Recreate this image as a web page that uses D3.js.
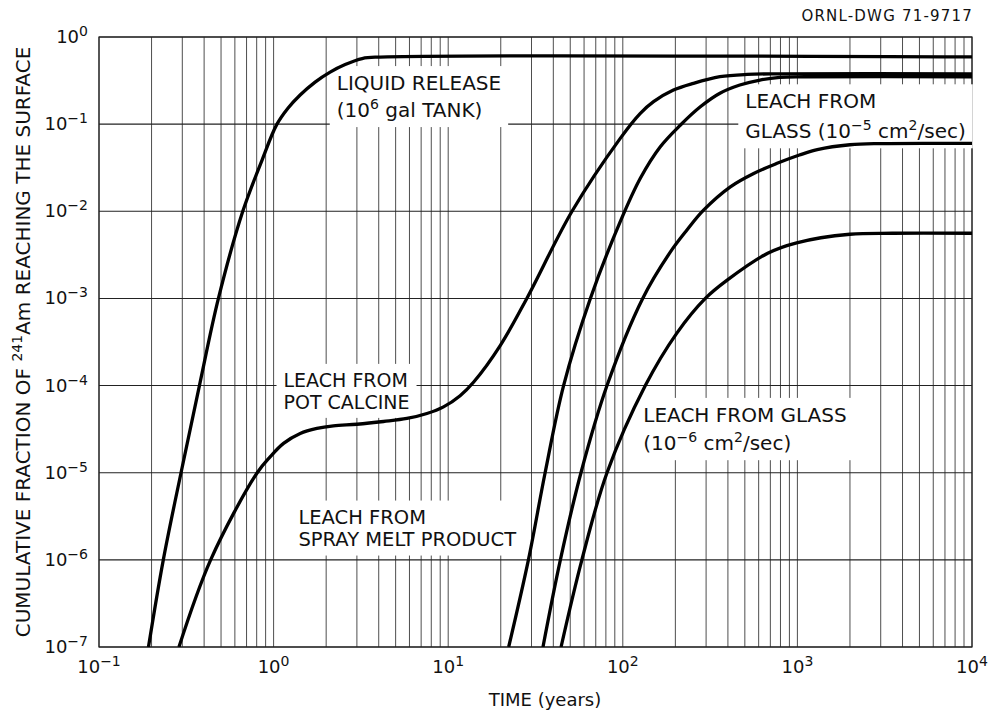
<!DOCTYPE html>
<html>
<head>
<meta charset="utf-8">
<script src="https://cdn.jsdelivr.net/npm/d3@7"></script>
<style>
  body { margin: 0; background: #fff; }
  svg text { font-family: "DejaVu Sans", sans-serif; fill: #111; }
</style>
</head>
<body>
<div id="chart"></div>
<script>
// decade ticks on both axes (exponents)
var xExponents = [-1, 0, 1, 2, 3, 4];
var yExponents = [0, -1, -2, -3, -4, -5, -6, -7];

// curves: [time in years, cumulative fraction]
var liquidRelease = [[0.192,1e-7],[0.2335,1e-6],[0.295,1e-5],[0.376,1e-4],[0.483,1e-3],[0.666,1e-2],
  [0.859,0.0387],[1.04,0.098],[1.211,0.153],[1.419,0.216],[1.729,0.304],[2.108,0.396],[2.569,0.483],
  [3.216,0.566],[4.076,0.589],[10000,0.59]];
var potCalcine = [[0.287,1e-7],[0.436,1e-6],[0.80,9.8e-6],[0.955,1.52e-5],[1.14,2.17e-5],[1.42,2.82e-5],
  [1.77,3.22e-5],[2.2,3.45e-5],[3.0,3.6e-5],[4.26,3.87e-5],[5.8,4.19e-5],[7.55,4.78e-5],[9.4,5.7e-5],
  [11.7,7.66e-5],[14,1.1e-4],[19.9,2.9e-4],[28.2,1e-3],[51.2,1e-2],[96.7,0.0687],[126,0.133],[150,0.181],
  [195,0.246],[254,0.294],[360,0.35],[515,0.372],[800,0.378],[10000,0.378]];
var sprayMelt = [[22.2,1e-7],[28.8,1e-6],[35.9,1e-5],[45.8,1e-4],[65.2,1e-3],[96.7,7.6e-3],[126,0.0239],
  [164,0.055],[214,0.0977],[278,0.158],[360,0.226],[468,0.281],[610,0.321],[794,0.345],[1100,0.35],[10000,0.35]];
var glass5 = [[34.9,1e-7],[43.9,1e-6],[57.6,1e-5],[81.2,1e-4],[130,1e-3],[187,3.4e-3],[233,6.1e-3],
  [290,0.0103],[413,0.0191],[562,0.0272],[765,0.0355],[1027,0.0442],[1300,0.051],[2000,0.058],[3000,0.0598],[10000,0.06]];
var glass6 = [[44.3,1e-7],[58.3,1e-6],[81.2,1e-5],[134.6,1e-4],[204,4e-4],[297,1e-3],[396,1.62e-3],
  [676,3.3e-3],[990,4.35e-3],[2000,5.45e-3],[3500,5.6e-3],[10000,5.6e-3]];
var series = [liquidRelease, potCalcine, sprayMelt, glass5, glass6];

// annotation lines: parts are [text, isSuperscript]; anchored at [years, fraction] (left edge, baseline)
var notes = [
  {at: [2.3, 0.246], lines: [[["LIQUID RELEASE"]], [["(10"], ["6", 1], [" gal TANK)"]]], gap: 27, size: 20},
  {at: [1.14, 9.66e-5], lines: [[["LEACH FROM"]], [["POT CALCINE"]]], gap: 22, size: 19},
  {at: [1.387, 2.61e-6], lines: [[["LEACH FROM"]], [["SPRAY MELT PRODUCT"]]], gap: 22, size: 19.5},
  {at: [503, 0.152], lines: [[["LEACH FROM"]], [["GLASS (10"], ["\u22125", 1], [" cm"], ["2", 1], ["/sec)"]]], gap: 30, size: 20},
  {at: [131, 3.83e-5], lines: [[["LEACH FROM GLASS"]], [["(10"], ["\u22126", 1], [" cm"], ["2", 1], ["/sec)"]]], gap: 28.3, size: 20}
];

var width = 993, height = 713;
var plotL = 99, plotR = 972, plotT = 37, plotB = 647;

var svg = d3.select("#chart").append("svg")
  .attr("width", width)
  .attr("height", height);

var x = d3.scaleLog().domain([0.1, 1e4]).range([plotL, plotR]);
var y = d3.scaleLog().domain([1e-7, 1]).range([plotB, plotT]);

// grid: every 1..9 multiple vertically, decades horizontally
svg.append("g").selectAll("line")
  .data(x.ticks())
  .enter().append("line")
  .attr("x1", d => x(d)).attr("x2", d => x(d))
  .attr("y1", plotT).attr("y2", plotB)
  .attr("stroke", "#3a3a3a")
  .attr("stroke-width", 0.9);

svg.append("g").selectAll("line")
  .data(yExponents)
  .enter().append("line")
  .attr("x1", plotL).attr("x2", plotR)
  .attr("y1", d => y(Math.pow(10, d))).attr("y2", d => y(Math.pow(10, d)))
  .attr("stroke", "#222")
  .attr("stroke-width", 1.1);

svg.append("rect")
  .attr("x", plotL).attr("y", plotT)
  .attr("width", plotR - plotL).attr("height", plotB - plotT)
  .attr("fill", "none")
  .attr("stroke", "#222")
  .attr("stroke-width", 1.2);

// labels on white boxes, so the grid breaks around them
var noteLayer = svg.append("g");
notes.forEach(function(n) {
  var g = noteLayer.append("g");
  var box = g.append("rect").attr("fill", "#fff");
  n.lines.forEach(function(parts, i) {
    var t = g.append("text")
      .attr("x", x(n.at[0]))
      .attr("y", y(n.at[1]) + i * n.gap)
      .style("font-size", n.size + "px");
    parts.forEach(function(p, j) {
      var prevSup = j > 0 && parts[j - 1][1];
      t.append("tspan")
        .attr("dy", p[1] ? -8 : (prevSup ? 8 : 0))
        .style("font-size", p[1] ? "14px" : n.size + "px")
        .text(p[0]);
    });
  });
  var bb = g.node().getBBox();
  box.attr("x", bb.x - 7).attr("y", bb.y - 5)
    .attr("width", bb.width + 14).attr("height", bb.height + 10);
});

// curves
var line = d3.line()
  .x(d => x(d[0]))
  .y(d => y(d[1]))
  .curve(d3.curveCatmullRom.alpha(0.5));

svg.append("clipPath").attr("id", "plot")
  .append("rect").attr("x", plotL).attr("y", plotT)
  .attr("width", plotR - plotL).attr("height", plotB - plotT);

svg.append("g").attr("clip-path", "url(#plot)")
  .selectAll("path")
  .data(series)
  .enter().append("path")
  .attr("d", line)
  .attr("fill", "none")
  .attr("stroke", "#000")
  .attr("stroke-width", 3.3);

// power-of-ten tick labels
function powerLabel(sel, e) {
  sel.append("tspan").text("10");
  sel.append("tspan")
    .attr("dy", -7)
    .style("font-size", "14px")
    .text(e < 0 ? "\u2212" + (-e) : e);
}

svg.append("g").selectAll("text")
  .data(xExponents)
  .enter().append("text")
  .attr("x", d => x(Math.pow(10, d)))
  .attr("y", 673)
  .attr("text-anchor", "middle")
  .style("font-size", "18px")
  .each(function(d) { powerLabel(d3.select(this), d); });

svg.append("g").selectAll("text")
  .data(yExponents)
  .enter().append("text")
  .attr("x", 88)
  .attr("y", d => y(Math.pow(10, d)) + 6)
  .attr("text-anchor", "end")
  .style("font-size", "18px")
  .each(function(d) { powerLabel(d3.select(this), d); });

// axis titles
svg.append("text")
  .attr("x", 545).attr("y", 706)
  .attr("text-anchor", "middle")
  .style("font-size", "18px")
  .text("TIME (years)");

var yTitle = svg.append("text")
  .attr("transform", "translate(30," + ((plotT + plotB) / 2) + ") rotate(-90)")
  .attr("text-anchor", "middle")
  .style("font-size", "20px");
yTitle.append("tspan").text("CUMULATIVE FRACTION OF ");
yTitle.append("tspan").attr("dy", -8).style("font-size", "14px").text("241");
yTitle.append("tspan").attr("dy", 8).text("Am REACHING THE SURFACE");

svg.append("text")
  .attr("x", 973).attr("y", 21)
  .attr("text-anchor", "end")
  .style("font-size", "15px")
  .style("letter-spacing", "1.2px")
  .text("ORNL-DWG 71-9717");
</script>
</body>
</html>
